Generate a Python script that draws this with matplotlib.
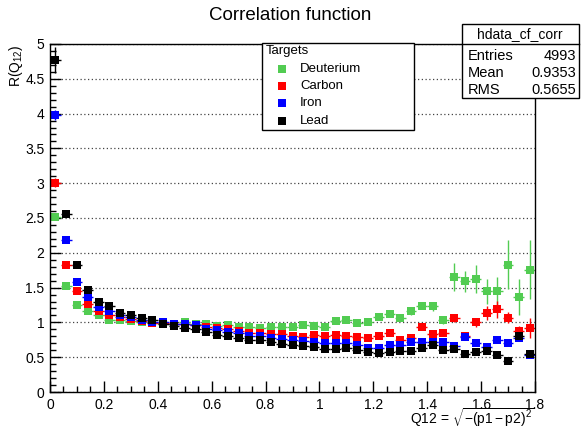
import numpy as np
import matplotlib.pyplot as plt
from matplotlib.patches import Rectangle
from matplotlib.lines import Line2D
from matplotlib.ticker import MultipleLocator, FormatStrFormatter

plt.rcParams['font.family'] = ['Liberation Sans', 'DejaVu Sans']
plt.rcParams['mathtext.fontset'] = 'custom'
plt.rcParams['mathtext.rm'] = 'Liberation Sans'
plt.rcParams['mathtext.it'] = 'Liberation Sans:italic'

# histogram binning: 45 bins from 0 to 1.8
edges = np.linspace(0, 1.8, 46)
q12 = 0.5 * (edges[:-1] + edges[1:])
half_bin = 0.5 * (edges[1] - edges[0])

targets = ['Deuterium', 'Carbon', 'Iron', 'Lead']
colors = ['#52cc52', '#ff0000', '#0000ff', '#000000']

deut = [2.52, 1.53, 1.245, 1.16, 1.10, 1.04, 1.03, 1.02, 1.00, 0.99,
        0.98, 0.97, 1.00, 0.98, 0.98, 0.95, 0.96, 0.93, 0.93, 0.92,
        0.93, 0.93, 0.93, 0.96, 0.95, 0.93, 1.02, 1.03, 0.99, 1.00,
        1.08, 1.12, 1.06, 1.16, 1.24, 1.23, 1.03, 1.65, 1.59, 1.62,
        1.45, 1.45, 1.83, 1.36, 1.76]
carbon = [3.01, 1.83, 1.45, 1.27, 1.16, 1.11, 1.08, 1.05, 1.02, 0.99,
          0.99, 0.98, 0.97, 0.96, 0.94, 0.92, 0.90, 0.88, 0.85, 0.85,
          0.83, 0.83, 0.81, 0.79, 0.82, 0.80, 0.82, 0.80, 0.79, 0.77,
          0.80, 0.85, 0.75, 0.77, 0.93, 0.83, 0.85, 1.06, 0.81, 1.00,
          1.13, 1.19, 1.07, 0.87, 0.92]
iron = [3.98, 2.19, 1.58, 1.37, 1.22, 1.16, 1.11, 1.08, 1.04, 1.01,
        1.01, 0.97, 0.97, 0.96, 0.91, 0.89, 0.86, 0.85, 0.80, 0.81,
        0.77, 0.76, 0.74, 0.73, 0.72, 0.71, 0.71, 0.70, 0.67, 0.63,
        0.63, 0.67, 0.67, 0.72, 0.72, 0.72, 0.72, 0.66, 0.79, 0.71,
        0.65, 0.74, 0.70, 0.77, 0.53]
lead = [4.77, 2.56, 1.83, 1.47, 1.30, 1.23, 1.14, 1.10, 1.07, 1.03,
        0.98, 0.95, 0.92, 0.91, 0.86, 0.82, 0.80, 0.77, 0.75, 0.75,
        0.72, 0.69, 0.68, 0.66, 0.64, 0.62, 0.62, 0.63, 0.60, 0.57,
        0.56, 0.57, 0.59, 0.59, 0.63, 0.68, 0.60, 0.62, 0.54, 0.57,
        0.59, 0.53, 0.45, 0.81, 0.55]

deut_err = [0.04, 0.03, 0.02, 0.02, 0.02, 0.02, 0.02, 0.02, 0.02, 0.02,
            0.02, 0.02, 0.02, 0.02, 0.02, 0.02, 0.02, 0.02, 0.02, 0.02,
            0.02, 0.03, 0.03, 0.03, 0.03, 0.03, 0.03, 0.03, 0.03, 0.03,
            0.04, 0.04, 0.04, 0.05, 0.05, 0.06, 0.06, 0.20, 0.15, 0.20,
            0.18, 0.20, 0.35, 0.26, 0.43]
carbon_err = [0.07, 0.04, 0.03, 0.02, 0.02, 0.02, 0.02, 0.02, 0.02, 0.02,
              0.02, 0.02, 0.02, 0.02, 0.02, 0.02, 0.02, 0.02, 0.02, 0.02,
              0.02, 0.02, 0.02, 0.02, 0.02, 0.02, 0.02, 0.02, 0.03, 0.03,
              0.03, 0.03, 0.03, 0.03, 0.04, 0.04, 0.04, 0.05, 0.05, 0.06,
              0.10, 0.12, 0.08, 0.08, 0.14]
iron_err = [0.07, 0.04, 0.03, 0.02, 0.02, 0.02, 0.02, 0.02, 0.02, 0.02,
            0.02, 0.02, 0.02, 0.02, 0.02, 0.02, 0.02, 0.02, 0.02, 0.02,
            0.02, 0.02, 0.02, 0.02, 0.02, 0.02, 0.02, 0.02, 0.02, 0.02,
            0.02, 0.02, 0.02, 0.02, 0.02, 0.03, 0.03, 0.03, 0.03, 0.03,
            0.03, 0.03, 0.03, 0.04, 0.04]
lead_err = [0.18, 0.05, 0.04, 0.03, 0.02, 0.02, 0.02, 0.02, 0.02, 0.02,
            0.02, 0.02, 0.02, 0.02, 0.02, 0.02, 0.02, 0.02, 0.02, 0.02,
            0.02, 0.02, 0.02, 0.02, 0.02, 0.02, 0.02, 0.02, 0.02, 0.02,
            0.02, 0.02, 0.02, 0.02, 0.02, 0.03, 0.03, 0.03, 0.03, 0.03,
            0.03, 0.03, 0.03, 0.04, 0.04]

series = [deut, carbon, iron, lead]
errors = [deut_err, carbon_err, iron_err, lead_err]

stat_names = ['Entries', 'Mean', 'RMS']
stat_values = ['4993', '0.9353', '0.5655']

W, H = 581, 428
fig = plt.figure(figsize=(W / 100, H / 100), dpi=100)
ax = fig.add_axes([50 / W, 1 - 392 / H, 485 / W, 348 / H])

for y, e, c in zip(series, errors, colors):
    ax.errorbar(q12, y, yerr=e, xerr=half_bin, fmt='s', color=c, ecolor=c,
                ms=5.6, mew=0, elinewidth=1, capsize=0)

ax.set_xlim(0, 1.8)
ax.set_ylim(0, 5)
ax.xaxis.set_major_locator(MultipleLocator(0.2))
ax.xaxis.set_minor_locator(MultipleLocator(0.05))
ax.yaxis.set_major_locator(MultipleLocator(0.5))
ax.yaxis.set_minor_locator(MultipleLocator(0.1))
ax.xaxis.set_major_formatter(FormatStrFormatter('%g'))
ax.yaxis.set_major_formatter(FormatStrFormatter('%g'))
ax.tick_params(which='both', direction='in', top=False, right=False, labelsize=10)
ax.tick_params(which='major', length=8, width=1, pad=4)
ax.tick_params(which='minor', length=4, width=1)
ax.yaxis.grid(True, linestyle=(0, (1, 2)), color='#444444', lw=0.9)
for s in ax.spines.values():
    s.set_linewidth(1)

fig.text(0.5, 1 - 15 / H, 'Correlation function', ha='center', va='center', fontsize=13.5)
fig.text(535 / W, 1 - 418 / H, r'Q12 = $\sqrt{\mathrm{-(p1-p2)^{2}}}$',
         ha='right', va='center', fontsize=10)
fig.text(16 / W, 1 - 44 / H, r'R(Q$_{12}$)', rotation=90, ha='center', va='top', fontsize=10)

# legend box
fig.add_artist(Rectangle((262 / W, 1 - 130 / H), 152 / W, 87 / H, transform=fig.transFigure,
                         facecolor='white', edgecolor='black', lw=1, zorder=5))
fig.text(266 / W, 1 - 51 / H, 'Targets', ha='left', va='center', fontsize=9.5, zorder=6)
for i, (name, c) in enumerate(zip(targets, colors)):
    yy = 1 - (68.5 + 17.4 * i) / H
    fig.add_artist(Line2D([282 / W], [yy], transform=fig.transFigure, marker='s',
                          ms=5.6, mew=0, color=c, zorder=6))
    fig.text(300 / W, yy, name, ha='left', va='center', fontsize=9.5, zorder=6)

# stats box
fig.add_artist(Rectangle((462 / W, 1 - 98 / H), 117 / W, 74 / H, transform=fig.transFigure,
                         facecolor='white', edgecolor='black', lw=1, zorder=5))
fig.add_artist(Line2D([462 / W, 579 / W], [1 - 44 / H, 1 - 44 / H], transform=fig.transFigure,
                      color='black', lw=1, zorder=6))
fig.text(520 / W, 1 - 34 / H, 'hdata_cf_corr', ha='center', va='center', fontsize=10, zorder=6)
for i, (n, v) in enumerate(zip(stat_names, stat_values)):
    yy = 1 - (55.5 + 17.5 * i) / H
    fig.text(468 / W, yy, n, ha='left', va='center', fontsize=10.5, zorder=6)
    fig.text(576 / W, yy, v, ha='right', va='center', fontsize=10.5, zorder=6)

fig.savefig('out.png', dpi=100)
